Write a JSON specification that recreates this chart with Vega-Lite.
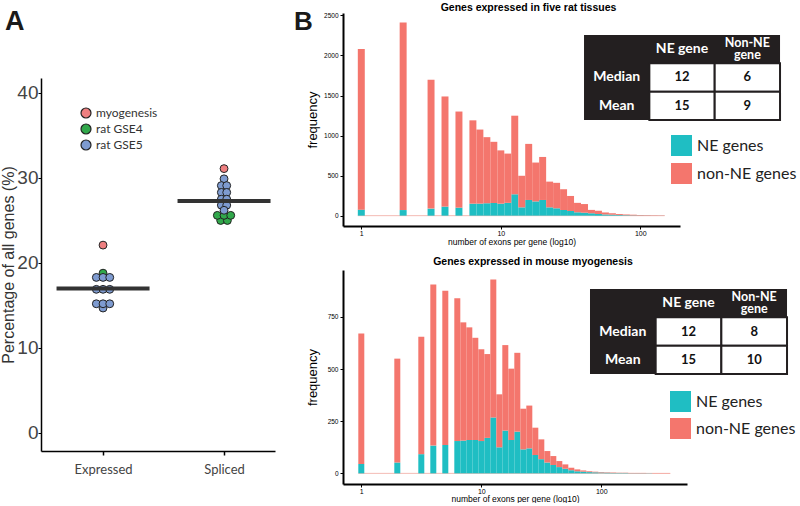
{
  "$schema": "https://vega.github.io/schema/vega-lite/v6.json",
  "padding": {"left": 0, "top": 2, "right": 0, "bottom": 0},
  "background": "white",
  "config": {"view": {"stroke": null}, "font": "Liberation Sans", "axis": {"grid": false}},
  "datasets": {
    "dots": [
      {"group": "Expressed", "val": 22.1, "src": "myogenesis", "pos": 0},
      {"group": "Expressed", "val": 18.8, "src": "rat GSE4", "pos": 0},
      {"group": "Expressed", "val": 18.3, "src": "rat GSE5", "pos": -1},
      {"group": "Expressed", "val": 18.3, "src": "rat GSE5", "pos": 0},
      {"group": "Expressed", "val": 18.3, "src": "rat GSE5", "pos": 1},
      {"group": "Expressed", "val": 16.9, "src": "rat GSE5", "pos": -1},
      {"group": "Expressed", "val": 16.9, "src": "rat GSE5", "pos": 0},
      {"group": "Expressed", "val": 16.9, "src": "rat GSE5", "pos": 1},
      {"group": "Expressed", "val": 14.7, "src": "rat GSE5", "pos": 0},
      {"group": "Expressed", "val": 15.2, "src": "rat GSE5", "pos": -1},
      {"group": "Expressed", "val": 15.2, "src": "rat GSE5", "pos": 0},
      {"group": "Expressed", "val": 15.2, "src": "rat GSE5", "pos": 1},
      {"group": "Spliced", "val": 31.1, "src": "myogenesis", "pos": 0},
      {"group": "Spliced", "val": 25.0, "src": "rat GSE4", "pos": -0.5},
      {"group": "Spliced", "val": 25.0, "src": "rat GSE4", "pos": 0.5},
      {"group": "Spliced", "val": 25.6, "src": "rat GSE4", "pos": -1},
      {"group": "Spliced", "val": 25.6, "src": "rat GSE4", "pos": 0},
      {"group": "Spliced", "val": 25.6, "src": "rat GSE4", "pos": 1},
      {"group": "Spliced", "val": 29.9, "src": "rat GSE5", "pos": 0},
      {"group": "Spliced", "val": 29.1, "src": "rat GSE5", "pos": -0.4},
      {"group": "Spliced", "val": 29.1, "src": "rat GSE5", "pos": 0.4},
      {"group": "Spliced", "val": 28.3, "src": "rat GSE5", "pos": -0.4},
      {"group": "Spliced", "val": 28.3, "src": "rat GSE5", "pos": 0.4},
      {"group": "Spliced", "val": 27.5, "src": "rat GSE5", "pos": -0.4},
      {"group": "Spliced", "val": 27.5, "src": "rat GSE5", "pos": 0.4},
      {"group": "Spliced", "val": 26.8, "src": "rat GSE5", "pos": -0.4},
      {"group": "Spliced", "val": 26.8, "src": "rat GSE5", "pos": 0.4},
      {"group": "Spliced", "val": 26.2, "src": "rat GSE5", "pos": 0}
    ],
    "means": [
      {"group": "Expressed", "mean": 17.0},
      {"group": "Spliced", "mean": 27.3}
    ],
    "histTop": [
      {"lo": -0.025, "hi": 0.025, "total": 2080, "ne": 75},
      {"lo": 0.275, "hi": 0.325, "total": 2410, "ne": 70},
      {"lo": 0.475, "hi": 0.525, "total": 1696, "ne": 88},
      {"lo": 0.575, "hi": 0.625, "total": 1488, "ne": 113},
      {"lo": 0.675, "hi": 0.725, "total": 1300, "ne": 100},
      {"lo": 0.775, "hi": 0.825, "total": 1190, "ne": 150},
      {"lo": 0.825, "hi": 0.875, "total": 1075, "ne": 150},
      {"lo": 0.875, "hi": 0.925, "total": 980, "ne": 155},
      {"lo": 0.925, "hi": 0.975, "total": 922, "ne": 158},
      {"lo": 0.975, "hi": 1.025, "total": 815, "ne": 150},
      {"lo": 1.025, "hi": 1.075, "total": 775, "ne": 160},
      {"lo": 1.075, "hi": 1.125, "total": 1248, "ne": 267},
      {"lo": 1.125, "hi": 1.175, "total": 498, "ne": 104},
      {"lo": 1.175, "hi": 1.225, "total": 896, "ne": 196},
      {"lo": 1.225, "hi": 1.275, "total": 663, "ne": 178},
      {"lo": 1.275, "hi": 1.325, "total": 733, "ne": 196},
      {"lo": 1.325, "hi": 1.375, "total": 425, "ne": 104},
      {"lo": 1.375, "hi": 1.425, "total": 410, "ne": 92},
      {"lo": 1.425, "hi": 1.475, "total": 330, "ne": 71},
      {"lo": 1.475, "hi": 1.525, "total": 246, "ne": 58},
      {"lo": 1.525, "hi": 1.575, "total": 160, "ne": 42},
      {"lo": 1.575, "hi": 1.625, "total": 145, "ne": 37},
      {"lo": 1.625, "hi": 1.675, "total": 72, "ne": 30},
      {"lo": 1.675, "hi": 1.725, "total": 60, "ne": 22},
      {"lo": 1.725, "hi": 1.775, "total": 40, "ne": 15},
      {"lo": 1.775, "hi": 1.825, "total": 30, "ne": 12},
      {"lo": 1.825, "hi": 1.875, "total": 20, "ne": 8},
      {"lo": 1.875, "hi": 1.925, "total": 15, "ne": 6},
      {"lo": 1.925, "hi": 1.975, "total": 12, "ne": 4},
      {"lo": 1.975, "hi": 2.025, "total": 8, "ne": 3},
      {"lo": 2.025, "hi": 2.075, "total": 6, "ne": 2},
      {"lo": 2.075, "hi": 2.125, "total": 4, "ne": 1},
      {"lo": 2.125, "hi": 2.175, "total": 3, "ne": 1}
    ],
    "histBot": [
      {"lo": -0.025, "hi": 0.025, "total": 671, "ne": 45},
      {"lo": 0.275, "hi": 0.325, "total": 550, "ne": 52},
      {"lo": 0.475, "hi": 0.525, "total": 655, "ne": 92},
      {"lo": 0.575, "hi": 0.625, "total": 906, "ne": 133},
      {"lo": 0.675, "hi": 0.725, "total": 876, "ne": 136},
      {"lo": 0.775, "hi": 0.825, "total": 839, "ne": 155},
      {"lo": 0.825, "hi": 0.875, "total": 724, "ne": 157},
      {"lo": 0.875, "hi": 0.925, "total": 700, "ne": 160},
      {"lo": 0.925, "hi": 0.975, "total": 650, "ne": 160},
      {"lo": 0.975, "hi": 1.025, "total": 595, "ne": 155},
      {"lo": 1.025, "hi": 1.075, "total": 572, "ne": 170},
      {"lo": 1.075, "hi": 1.125, "total": 930, "ne": 268},
      {"lo": 1.125, "hi": 1.175, "total": 379, "ne": 125},
      {"lo": 1.175, "hi": 1.225, "total": 615, "ne": 205},
      {"lo": 1.225, "hi": 1.275, "total": 502, "ne": 160},
      {"lo": 1.275, "hi": 1.325, "total": 578, "ne": 200},
      {"lo": 1.325, "hi": 1.375, "total": 310, "ne": 115},
      {"lo": 1.375, "hi": 1.425, "total": 325, "ne": 120},
      {"lo": 1.425, "hi": 1.475, "total": 219, "ne": 88},
      {"lo": 1.475, "hi": 1.525, "total": 163, "ne": 68},
      {"lo": 1.525, "hi": 1.575, "total": 107, "ne": 52},
      {"lo": 1.575, "hi": 1.625, "total": 83, "ne": 40},
      {"lo": 1.625, "hi": 1.675, "total": 59, "ne": 30},
      {"lo": 1.675, "hi": 1.725, "total": 43, "ne": 22},
      {"lo": 1.725, "hi": 1.775, "total": 27, "ne": 15},
      {"lo": 1.775, "hi": 1.825, "total": 19, "ne": 10},
      {"lo": 1.825, "hi": 1.875, "total": 14, "ne": 8},
      {"lo": 1.875, "hi": 1.925, "total": 10, "ne": 6},
      {"lo": 1.925, "hi": 1.975, "total": 8, "ne": 5},
      {"lo": 1.975, "hi": 2.025, "total": 6, "ne": 4},
      {"lo": 2.025, "hi": 2.075, "total": 5, "ne": 3},
      {"lo": 2.075, "hi": 2.125, "total": 4, "ne": 2},
      {"lo": 2.125, "hi": 2.175, "total": 3, "ne": 2},
      {"lo": 2.175, "hi": 2.225, "total": 3, "ne": 2},
      {"lo": 2.225, "hi": 2.275, "total": 2, "ne": 1},
      {"lo": 2.275, "hi": 2.325, "total": 2, "ne": 1},
      {"lo": 2.325, "hi": 2.375, "total": 2, "ne": 1},
      {"lo": 2.375, "hi": 2.425, "total": 1, "ne": 1},
      {"lo": 2.425, "hi": 2.475, "total": 1, "ne": 0},
      {"lo": 2.475, "hi": 2.525, "total": 1, "ne": 0},
      {"lo": 2.525, "hi": 2.575, "total": 1, "ne": 0}
    ],
    "tabFrame": [{"c0": 0, "c1": 3, "r0": 0, "r1": 3}],
    "tabCells": [
      {"c0": 1, "c1": 2, "r0": 1, "r1": 2},
      {"c0": 2, "c1": 3, "r0": 1, "r1": 2},
      {"c0": 1, "c1": 2, "r0": 2, "r1": 3},
      {"c0": 2, "c1": 3, "r0": 2, "r1": 3}
    ],
    "tabTextTop": [
      {"c": 1.5, "r": 0.5, "t": "NE gene", "part": "head"},
      {"c": 2.5, "r": 0.5, "t": "Non-NE\ngene", "part": "head2"},
      {"c": 0.5, "r": 1.5, "t": "Median", "part": "head"},
      {"c": 0.5, "r": 2.5, "t": "Mean", "part": "head"},
      {"c": 1.5, "r": 1.5, "t": "12", "part": "value"},
      {"c": 2.5, "r": 1.5, "t": "6", "part": "value"},
      {"c": 1.5, "r": 2.5, "t": "15", "part": "value"},
      {"c": 2.5, "r": 2.5, "t": "9", "part": "value"}
    ],
    "tabTextBot": [
      {"c": 1.5, "r": 0.5, "t": "NE gene", "part": "head"},
      {"c": 2.5, "r": 0.5, "t": "Non-NE\ngene", "part": "head2"},
      {"c": 0.5, "r": 1.5, "t": "Median", "part": "head"},
      {"c": 0.5, "r": 2.5, "t": "Mean", "part": "head"},
      {"c": 1.5, "r": 1.5, "t": "12", "part": "value"},
      {"c": 2.5, "r": 1.5, "t": "8", "part": "value"},
      {"c": 1.5, "r": 2.5, "t": "15", "part": "value"},
      {"c": 2.5, "r": 2.5, "t": "10", "part": "value"}
    ]
  },
  "spacing": 19,
  "bounds": "full",
  "resolve": {"scale": {"color": "independent"}, "legend": {"color": "independent"}},
  "hconcat": [
    {
      "spacing": 0,
      "bounds": "flush",
      "vconcat": [
        {
          "width": 234,
          "height": 65,
          "data": {"values": [{"label": "A"}]},
          "mark": {"type": "text", "fontSize": 27, "fontWeight": "bold", "font": "Liberation Sans", "align": "left", "baseline": "middle", "color": "#1a1a1a"},
          "encoding": {
            "x": {"datum": -0.154, "type": "quantitative", "scale": {"domain": [0, 1], "nice": false, "zero": false}, "axis": null},
            "y": {"datum": 0.8615, "type": "quantitative", "scale": {"domain": [0, 1], "nice": false, "zero": false}, "axis": null},
            "text": {"field": "label"}
          }
        },
        {
          "width": 234,
          "height": 373,
          "layer": [
            {
              "data": {"name": "dots"},
              "mark": {"type": "point", "filled": true, "size": 62, "stroke": "#222222", "strokeWidth": 1, "opacity": 1},
              "encoding": {
                "x": {"field": "group", "type": "nominal", "title": null,
                  "scale": {"type": "point", "padding": 0.467, "align": 0.549, "domain": ["Expressed", "Spliced"]},
                  "axis": {"labelAngle": 0, "labelFontSize": 13, "labelFont": "Lato", "labelColor": "#444444", "domainColor": "#000000", "domainWidth": 1.5, "tickColor": "#000000", "tickWidth": 1.5, "tickSize": 4, "labelPadding": 8}},
                "xOffset": {"field": "pos", "type": "quantitative", "scale": {"domain": [-1, 1], "range": [-6.7, 6.7]}},
                "y": {"field": "val", "type": "quantitative", "title": "Percentage of all genes (%)",
                  "scale": {"domain": [-2.12, 41.76], "nice": false, "zero": false},
                  "axis": {"values": [0, 10, 20, 30, 40], "labelFontSize": 19, "labelColor": "#444444", "tickSize": 3, "tickColor": "#000000", "labelPadding": 0, "domainColor": "#000000", "domainWidth": 1.5, "titleFontSize": 16, "titleFontWeight": "normal", "titleColor": "#333333", "titlePadding": 0}},
                "color": {"field": "src", "type": "nominal",
                  "scale": {"domain": ["myogenesis", "rat GSE4", "rat GSE5"], "range": ["#EE7F80", "#31A84B", "#7E9BD0"]},
                  "legend": {"orient": "none", "legendX": 39, "legendY": 94, "title": null, "labelFontSize": 12, "labelFont": "Lato", "labelColor": "#333333", "symbolSize": 100, "symbolStrokeColor": "#222222", "symbolStrokeWidth": 1.2, "symbolType": "circle", "rowPadding": 0, "labelOffset": 4, "padding": 0}}
              }
            },
            {
              "data": {"name": "means"},
              "mark": {"type": "tick", "size": 93, "thickness": 4, "color": "#333333", "opacity": 1},
              "encoding": {
                "x": {"field": "group", "type": "nominal"},
                "y": {"field": "mean", "type": "quantitative"}
              }
            }
          ]
        }
      ]
    },
    {
      "spacing": 44,
      "bounds": "flush",
      "resolve": {"scale": {"color": "independent"}, "legend": {"color": "independent"}},
      "vconcat": [
        {
          "width": 337,
          "height": 213,
          "title": {"text": "Genes expressed in five rat tissues", "fontSize": 10.5, "fontWeight": "bold", "font": "Liberation Sans", "offset": -4, "dx": 17, "anchor": "middle", "color": "#000000"},
          "resolve": {"scale": {"x": "independent", "y": "independent"}},
          "layer": [
            {
              "layer": [
                {
                  "data": {"values": [{"label": "zero bins"}]},
                  "mark": {"type": "rule", "color": "#F4BBB4", "strokeWidth": 1},
                  "encoding": {"x": {"datum": -0.025}, "x2": {"datum": 2.175}, "y": {"datum": 0}}
                },
                {
                  "data": {"name": "histTop"},
                  "mark": {"type": "rect"},
                  "encoding": {
                    "x": {"field": "lo", "type": "quantitative", "title": "number of exons per gene (log10)",
                      "scale": {"domain": [-0.1312, 2.2846], "nice": false, "zero": false},
                      "axis": {"values": [0, 1, 2], "labelExpr": "format(pow(10, datum.value), 'd')", "labelFontSize": 7, "labelColor": "#000000", "tickSize": 3, "tickColor": "#000000", "labelPadding": 0, "domainWidth": 2, "domainColor": "#000000", "titleFontSize": 8.5, "titleFontWeight": "normal", "titleColor": "#000000", "titlePadding": 1}},
                    "x2": {"field": "hi"},
                    "y": {"field": "ne", "type": "quantitative", "title": "frequency",
                      "scale": {"domain": [-129, 2530], "nice": false, "zero": false},
                      "axis": {"values": [0, 500, 1000, 1500, 2000, 2500], "format": "d", "labelFontSize": 6.5, "labelColor": "#000000", "tickSize": 3, "tickColor": "#000000", "labelPadding": 2, "domainWidth": 2, "domainColor": "#000000", "titleFontSize": 13, "titleFontWeight": "normal", "titleColor": "#000000", "titlePadding": 4}},
                    "y2": {"datum": 0},
                    "color": {"datum": "NE genes", "type": "nominal",
                      "scale": {"domain": ["NE genes", "non-NE genes"], "range": ["#1FBEC3", "#F4766D"]},
                      "legend": {"orient": "none", "legendX": 328, "legendY": 122, "title": null, "symbolType": "square", "symbolSize": 441, "symbolStrokeWidth": 0, "symbolOpacity": 1, "labelFontSize": 16, "labelFont": "Lato", "labelColor": "#222222", "rowPadding": 7, "labelOffset": 5, "padding": 0}}
                  }
                },
                {
                  "data": {"name": "histTop"},
                  "mark": {"type": "rect"},
                  "encoding": {
                    "x": {"field": "lo", "type": "quantitative"},
                    "x2": {"field": "hi"},
                    "y": {"field": "total", "type": "quantitative"},
                    "y2": {"field": "ne"},
                    "color": {"datum": "non-NE genes", "type": "nominal"}
                  }
                },
                {
                  "data": {"values": [{"label": "B"}]},
                  "mark": {"type": "text", "fontSize": 26, "fontWeight": "bold", "font": "Liberation Sans", "align": "left", "baseline": "middle", "color": "#1a1a1a"},
                  "encoding": {"x": {"datum": -0.482}, "y": {"datum": 2415}, "text": {"field": "label"}}
                }
              ]
            },
            {
              "layer": [
                {
                  "data": {"name": "tabFrame"},
                  "mark": {"type": "rect", "color": "#231F20"},
                  "encoding": {
                    "x": {"field": "c0", "type": "quantitative", "axis": null, "scale": {"domain": [-3.689, 1.469], "nice": false, "zero": false}},
                    "x2": {"field": "c1"},
                    "y": {"field": "r0", "type": "quantitative", "axis": null, "scale": {"domain": [-0.776, 6.742], "reverse": true, "nice": false, "zero": false}},
                    "y2": {"field": "r1"}
                  }
                },
                {
                  "data": {"name": "tabCells"},
                  "mark": {"type": "rect", "fill": "#FFFFFF", "stroke": "#231F20", "strokeWidth": 2},
                  "encoding": {
                    "x": {"field": "c0", "type": "quantitative"},
                    "x2": {"field": "c1"},
                    "y": {"field": "r0", "type": "quantitative"},
                    "y2": {"field": "r1"}
                  }
                },
                {
                  "data": {"name": "tabTextTop"},
                  "transform": [{"filter": "datum.part == 'head'"}],
                  "mark": {"type": "text", "font": "Lato", "fontWeight": "bold", "fontSize": 14, "color": "#FFFFFF", "align": "center", "baseline": "middle"},
                  "encoding": {"x": {"field": "c", "type": "quantitative"}, "y": {"field": "r", "type": "quantitative"}, "text": {"field": "t"}}
                },
                {
                  "data": {"name": "tabTextTop"},
                  "transform": [{"filter": "datum.part == 'head2'"}],
                  "mark": {"type": "text", "font": "Lato", "fontWeight": "bold", "fontSize": 12.5, "lineHeight": 12, "lineBreak": "\n", "dy": -6, "color": "#FFFFFF", "align": "center", "baseline": "middle"},
                  "encoding": {"x": {"field": "c", "type": "quantitative"}, "y": {"field": "r", "type": "quantitative"}, "text": {"field": "t"}}
                },
                {
                  "data": {"name": "tabTextTop"},
                  "transform": [{"filter": "datum.part == 'value'"}],
                  "mark": {"type": "text", "font": "Lato", "fontWeight": "bold", "fontSize": 13, "color": "#111111", "align": "center", "baseline": "middle"},
                  "encoding": {"x": {"field": "c", "type": "quantitative"}, "y": {"field": "r", "type": "quantitative"}, "text": {"field": "t"}}
                }
              ]
            }
          ]
        },
        {
          "width": 344,
          "height": 214,
          "title": {"text": "Genes expressed in mouse myogenesis", "fontSize": 10.5, "fontWeight": "bold", "font": "Liberation Sans", "offset": 3, "dx": 18, "anchor": "middle", "color": "#000000"},
          "resolve": {"scale": {"x": "independent", "y": "independent"}},
          "layer": [
            {
              "layer": [
                {
                  "data": {"values": [{"label": "zero bins"}]},
                  "mark": {"type": "rule", "color": "#F4BBB4", "strokeWidth": 1},
                  "encoding": {"x": {"datum": -0.025}, "x2": {"datum": 2.575}, "y": {"datum": 0}}
                },
                {
                  "data": {"name": "histBot"},
                  "mark": {"type": "rect"},
                  "encoding": {
                    "x": {"field": "lo", "type": "quantitative", "title": "number of exons per gene (log10)",
                      "scale": {"domain": [-0.1525, 2.714], "nice": false, "zero": false},
                      "axis": {"values": [0, 1, 2], "labelExpr": "format(pow(10, datum.value), 'd')", "labelFontSize": 7, "labelColor": "#000000", "tickSize": 3, "tickColor": "#000000", "labelPadding": 0, "domainWidth": 2, "domainColor": "#000000", "titleFontSize": 8.5, "titleFontWeight": "normal", "titleColor": "#000000", "titlePadding": 0}},
                    "x2": {"field": "hi"},
                    "y": {"field": "ne", "type": "quantitative", "title": "frequency",
                      "scale": {"domain": [-51, 975], "nice": false, "zero": false},
                      "axis": {"values": [0, 250, 500, 750], "format": "d", "labelFontSize": 6.5, "labelColor": "#000000", "tickSize": 3, "tickColor": "#000000", "labelPadding": 2, "domainWidth": 2, "domainColor": "#000000", "titleFontSize": 13, "titleFontWeight": "normal", "titleColor": "#000000", "titlePadding": 8}},
                    "y2": {"datum": 0},
                    "color": {"datum": "NE genes", "type": "nominal",
                      "scale": {"domain": ["NE genes", "non-NE genes"], "range": ["#1FBEC3", "#F4766D"]},
                      "legend": {"orient": "none", "legendX": 327, "legendY": 121, "title": null, "symbolType": "square", "symbolSize": 441, "symbolStrokeWidth": 0, "symbolOpacity": 1, "labelFontSize": 16, "labelFont": "Lato", "labelColor": "#222222", "rowPadding": 6, "labelOffset": 5, "padding": 0}}
                  }
                },
                {
                  "data": {"name": "histBot"},
                  "mark": {"type": "rect"},
                  "encoding": {
                    "x": {"field": "lo", "type": "quantitative"},
                    "x2": {"field": "hi"},
                    "y": {"field": "total", "type": "quantitative"},
                    "y2": {"field": "ne"},
                    "color": {"datum": "non-NE genes", "type": "nominal"}
                  }
                }
              ]
            },
            {
              "layer": [
                {
                  "data": {"name": "tabFrame"},
                  "mark": {"type": "rect", "color": "#231F20"},
                  "encoding": {
                    "x": {"field": "c0", "type": "quantitative", "axis": null, "scale": {"domain": [-3.761, 1.477], "nice": false, "zero": false}},
                    "x2": {"field": "c1"},
                    "y": {"field": "r0", "type": "quantitative", "axis": null, "scale": {"domain": [-0.671, 6.883], "reverse": true, "nice": false, "zero": false}},
                    "y2": {"field": "r1"}
                  }
                },
                {
                  "data": {"name": "tabCells"},
                  "mark": {"type": "rect", "fill": "#FFFFFF", "stroke": "#231F20", "strokeWidth": 2},
                  "encoding": {
                    "x": {"field": "c0", "type": "quantitative"},
                    "x2": {"field": "c1"},
                    "y": {"field": "r0", "type": "quantitative"},
                    "y2": {"field": "r1"}
                  }
                },
                {
                  "data": {"name": "tabTextBot"},
                  "transform": [{"filter": "datum.part == 'head'"}],
                  "mark": {"type": "text", "font": "Lato", "fontWeight": "bold", "fontSize": 14, "color": "#FFFFFF", "align": "center", "baseline": "middle"},
                  "encoding": {"x": {"field": "c", "type": "quantitative"}, "y": {"field": "r", "type": "quantitative"}, "text": {"field": "t"}}
                },
                {
                  "data": {"name": "tabTextBot"},
                  "transform": [{"filter": "datum.part == 'head2'"}],
                  "mark": {"type": "text", "font": "Lato", "fontWeight": "bold", "fontSize": 12.5, "lineHeight": 12, "lineBreak": "\n", "dy": -6, "color": "#FFFFFF", "align": "center", "baseline": "middle"},
                  "encoding": {"x": {"field": "c", "type": "quantitative"}, "y": {"field": "r", "type": "quantitative"}, "text": {"field": "t"}}
                },
                {
                  "data": {"name": "tabTextBot"},
                  "transform": [{"filter": "datum.part == 'value'"}],
                  "mark": {"type": "text", "font": "Lato", "fontWeight": "bold", "fontSize": 13, "color": "#111111", "align": "center", "baseline": "middle"},
                  "encoding": {"x": {"field": "c", "type": "quantitative"}, "y": {"field": "r", "type": "quantitative"}, "text": {"field": "t"}}
                }
              ]
            }
          ]
        }
      ]
    }
  ]
}
